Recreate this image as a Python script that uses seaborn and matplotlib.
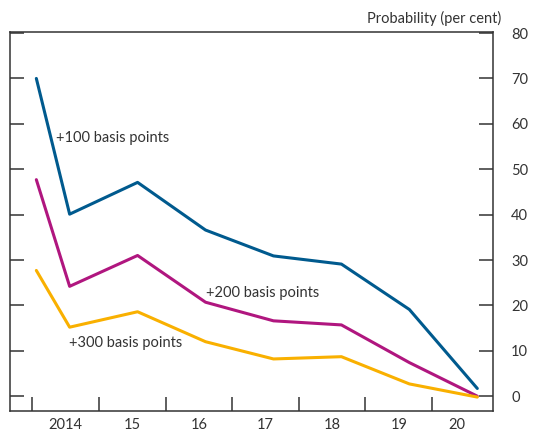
import matplotlib
matplotlib.use("Agg")
import matplotlib.pyplot as plt
import pandas as pd
import seaborn as sns

years = [2014.06, 2014.56, 2015.58, 2016.60, 2017.62, 2018.64, 2019.66, 2020.68]
bp100 = [70.0, 40.1, 47.1, 36.6, 30.9, 29.1, 19.1, 1.7]
bp200 = [47.7, 24.2, 31.0, 20.7, 16.6, 15.7, 7.4, 0.0]
bp300 = [27.7, 15.2, 18.6, 12.0, 8.2, 8.7, 2.7, -0.2]

series = ['+100 basis points', '+200 basis points', '+300 basis points']
colors = ['#005A8E', '#B0167F', '#F9B000']

tick_years = [2014, 2015, 2016, 2017, 2018, 2019, 2020]
label_pos = [2014.5, 2015.5, 2016.5, 2017.5, 2018.5, 2019.5, 2020.38]
label_txt = ['2014', '15', '16', '17', '18', '19', '20']

df = pd.DataFrame({
    'year': years * 3,
    'prob': bp100 + bp200 + bp300,
    'series': [s for s in series for _ in years],
})

sns.set_style('white')
plt.rcParams['font.family'] = ['Lato', 'DejaVu Sans']
txt = '#333333'

fig = plt.figure(figsize=(5.33, 4.33), dpi=100)
ax = fig.add_axes([0.0188, 0.0515, 0.9062, 0.8753])

sns.lineplot(data=df, x='year', y='prob', hue='series', palette=dict(zip(series, colors)),
             linewidth=2.2, legend=False, ax=ax)

ax.set_xlim(2013.665, 2020.916)
ax.set_ylim(-3.2, 80.3)

for sp in ax.spines.values():
    sp.set_color(txt)
    sp.set_linewidth(1.1)

ax.set_yticks(range(0, 81, 10))
ax.tick_params(axis='y', direction='in', left=True, right=True, labelleft=False,
               labelright=True, length=10, width=1.1, color=txt, labelcolor=txt,
               labelsize=10.5, pad=13)

ax.set_xticks(tick_years)
ax.set_xticklabels([])
ax.set_xticks(label_pos, minor=True)
ax.set_xticklabels(label_txt, minor=True)
ax.tick_params(axis='x', which='major', direction='in', bottom=True, length=10,
               width=1.1, color=txt)
ax.tick_params(axis='x', which='minor', bottom=False, length=0, pad=5.5,
               labelsize=10.5, labelcolor=txt)

ax.set_xlabel('')
ax.set_ylabel('')

ax.text(2014.35, 56.8, '+100 basis points', fontsize=10.5, color=txt, va='center')
ax.text(2016.61, 22.8, '+200 basis points', fontsize=10.5, color=txt, va='center')
ax.text(2014.55, 11.8, '+300 basis points', fontsize=10.5, color=txt, va='center')

fig.text(0.94, 0.958, 'Probability (per cent)', fontsize=10.5, color=txt,
         ha='right', va='center')

fig.savefig('out.png', dpi=100)
